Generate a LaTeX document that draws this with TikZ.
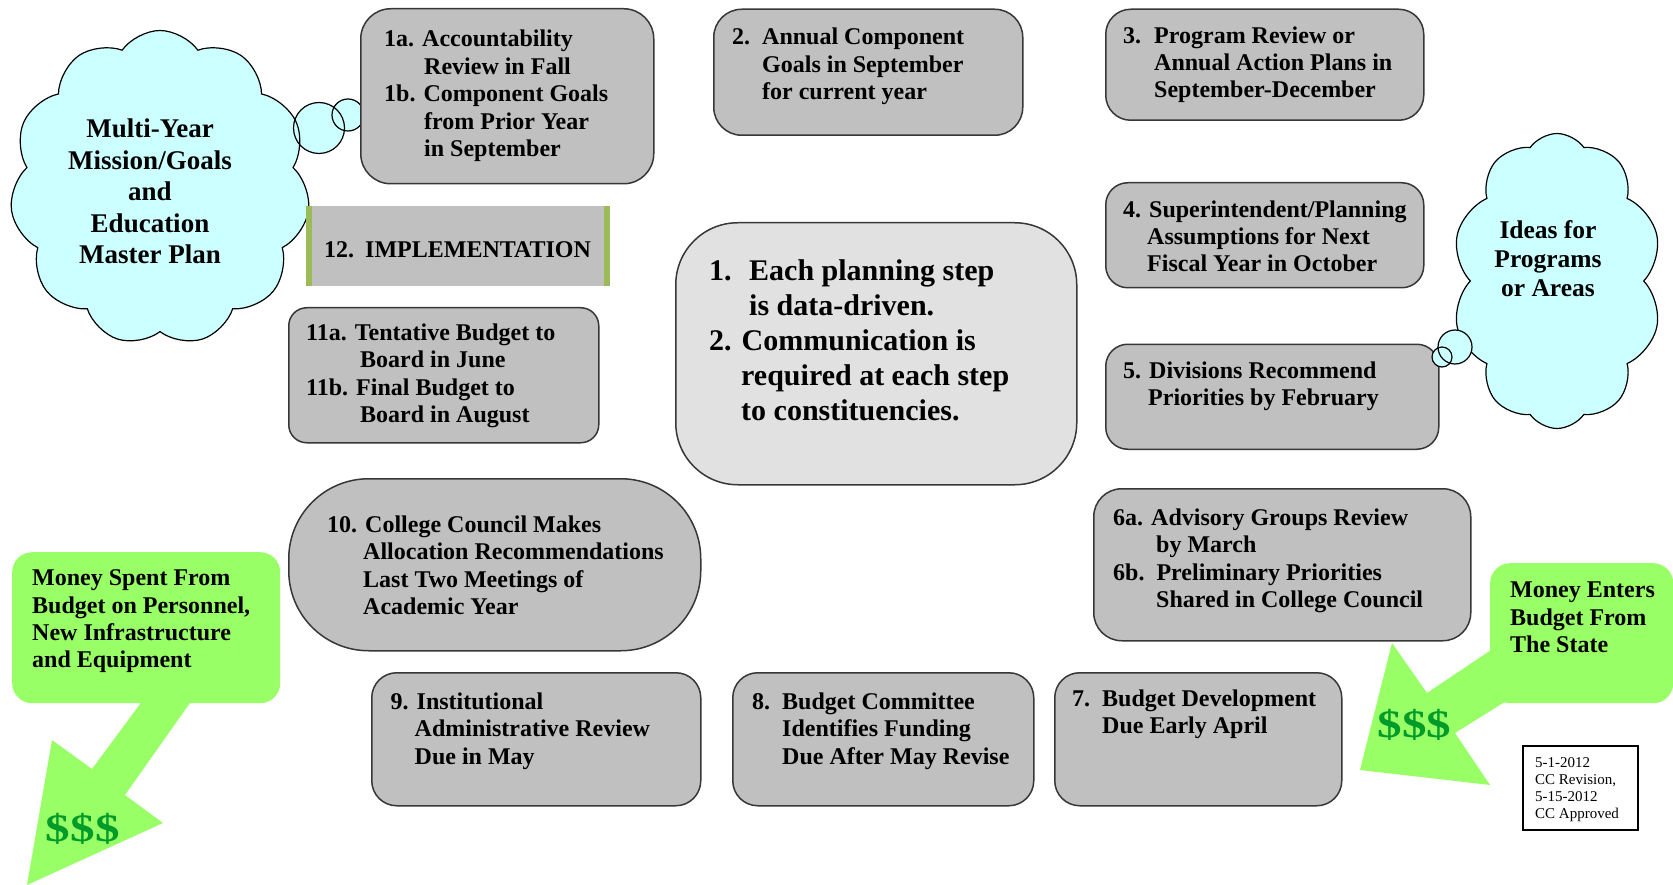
\documentclass[tikz,border=0pt]{standalone}
\usepackage{fontspec}
\usepackage{graphicx}
\setmainfont{Liberation Serif}
\usetikzlibrary{shapes.symbols}
\definecolor{boxgray}{RGB}{192,192,192}
\definecolor{centergray}{RGB}{225,225,225}
\definecolor{cloudcyan}{RGB}{204,255,255}
\definecolor{callgreen}{RGB}{153,255,102}
\definecolor{dollargreen}{RGB}{0,155,40}
\definecolor{implgreen}{RGB}{155,187,89}
\definecolor{edgegray}{RGB}{55,55,55}
\begin{document}
\begin{tikzpicture}[x=1pt,y=-1pt,
  stepbox/.style={draw=edgegray, line width=1.5pt, fill=boxgray, anchor=north west, inner sep=0pt, rounded corners=#1},
  stepbox/.default=25pt,
  txt/.style={font=\fontsize{24}{27.4}\selectfont\bfseries, align=left, inner sep=0pt, anchor=north west, text=black},
  bigtxt/.style={font=\fontsize{30}{35}\selectfont\bfseries, align=left, inner sep=0pt, anchor=north west, text=black},
  cloudtxt/.style={font=\fontsize{27}{31.5}\selectfont\bfseries, align=center, inner sep=0pt, anchor=north, text=black},
  cloudtxtb/.style={font=\fontsize{25.5}{29}\selectfont\bfseries, align=center, inner sep=0pt, anchor=north, text=black},
  thought/.style={cloud, cloud ignores aspect, inner sep=0pt, line width=1.2pt},
  bubble/.style={circle, inner sep=0pt, line width=1.2pt},
  callout/.style={fill=callgreen, rounded corners=20pt, anchor=north west, inner sep=0pt},
  dollars/.style={font=\fontsize{39}{44}\selectfont\bfseries, text=dollargreen, inner sep=0pt, anchor=base west},
  datetxt/.style={font=\fontsize{15}{17}\selectfont, align=left, inner sep=0pt, anchor=north west, text=black}
]
\useasboundingbox (0,0) rectangle (1673,885);
\fill[white] (0,0) rectangle (1673,885);

% ---------- left thought cloud ----------
\node[thought, cloud puffs=11, cloud puff arc=110, minimum width=300pt, minimum height=315pt, fill=cloudcyan] (c1) at (160,188) {};
\node[bubble, minimum size=51pt, fill=cloudcyan] (c1b1) at (319,128) {};
\node[bubble, minimum size=32pt, fill=cloudcyan] (c1b2) at (348,115) {};
\node[thought, cloud puffs=11, cloud puff arc=110, minimum width=300pt, minimum height=315pt, draw=black] (c1o) at (c1.center) {};
\node[bubble, minimum size=51pt, draw=black] (c1b1o) at (c1b1.center) {};
\node[bubble, minimum size=32pt, draw=black] (c1b2o) at (c1b2.center) {};
\node[cloudtxt] (c1t) at (150,118.7) {Multi-Year\\Mission/Goals\\and\\Education\\Master Plan};

% ---------- right thought cloud ----------
\node[thought, cloud puffs=10, cloud puff arc=110, minimum width=210pt, minimum height=295pt, fill=cloudcyan] (c2) at (1557,281) {};
\node[thought, cloud puffs=10, cloud puff arc=110, minimum width=210pt, minimum height=295pt, draw=black] (c2o) at (c2.center) {};
\node[cloudtxtb] (c2t) at (1548,220.5) {Ideas for\\Programs\\or Areas};

% ---------- step boxes ----------
\node[stepbox=30pt, minimum width=293pt, minimum height=175pt] (b1) at (360,8) {};
\node[txt] (t1) at (384,30) {1a. Accountability\\\hspace*{40pt}Review in Fall\\1b. Component Goals\\\hspace*{40pt}from Prior Year\\\hspace*{40pt}in September};

\node[stepbox=28pt, minimum width=309pt, minimum height=126pt] (b2) at (713,8.5) {};
\node[txt] (t2) at (732,27.8) {2.\hspace{12pt}Annual Component\\\hspace*{30pt}Goals in September\\\hspace*{30pt}for current year};

\node[stepbox=25pt, minimum width=318pt, minimum height=111pt] (b3) at (1105,8.5) {};
\node[txt] (t3) at (1123,26.2) {3.\hspace{13pt}Program Review or\\\hspace*{31pt}Annual Action Plans in\\\hspace*{31pt}September-December};

\node[stepbox=22pt, minimum width=318pt, minimum height=105pt] (b4) at (1105,182) {};
\node[txt] (t4) at (1123,200.2) {4. Superintendent/Planning\\\hspace*{24pt}Assumptions for Next\\\hspace*{24pt}Fiscal Year in October};

\node[stepbox=22pt, minimum width=333pt, minimum height=105pt] (b5) at (1105,343.5) {};
\node[txt] (t5) at (1123,361.5) {5. Divisions Recommend\\\hspace*{25pt}Priorities by February};

\node[bubble, minimum size=34pt, fill=cloudcyan] (c2b1) at (1455,347) {};
\node[bubble, minimum size=20pt, fill=cloudcyan] (c2b2) at (1442,357) {};
\node[bubble, minimum size=34pt, draw=black] (c2b1o) at (c2b1.center) {};
\node[bubble, minimum size=20pt, draw=black] (c2b2o) at (c2b2.center) {};

\node[stepbox=28pt, minimum width=377pt, minimum height=152pt] (b6) at (1093,488) {};
\node[txt] (t6) at (1113,508.5) {6a. Advisory Groups Review\\\hspace*{43pt}by March\\6b.\hspace{12pt}Preliminary Priorities\\\hspace*{43pt}Shared in College Council};

\node[stepbox=25pt, minimum width=287pt, minimum height=133pt] (b7) at (1054,672) {};
\node[txt] (t7) at (1072,689.5) {7.\hspace{12pt}Budget Development\\\hspace*{30pt}Due Early April};

\node[stepbox=25pt, minimum width=301pt, minimum height=133pt] (b8) at (732,672) {};
\node[txt] (t8) at (752,692.5) {8.\hspace{12pt}Budget Committee\\\hspace*{30pt}Identifies Funding\\\hspace*{30pt}Due After May Revise};

\node[stepbox=25pt, minimum width=329pt, minimum height=133pt] (b9) at (371,672) {};
\node[txt] (t9) at (390.5,692.5) {9. Institutional\\\hspace*{24pt}Administrative Review\\\hspace*{24pt}Due in May};

\node[stepbox=80pt, minimum width=412pt, minimum height=172pt] (b10) at (288,478) {};
\node[txt] (t10) at (327,515.5) {10. College Council Makes\\\hspace*{36pt}Allocation Recommendations\\\hspace*{36pt}Last Two Meetings of\\\hspace*{36pt}Academic Year};

\node[stepbox=18pt, minimum width=310pt, minimum height=135pt] (b11) at (288,307) {};
\node[txt] (t11) at (306,323.5) {11a. Tentative Budget to\\\hspace*{54pt}Board in June\\11b. Final Budget to\\\hspace*{54pt}Board in August};

% ---------- 12. implementation ----------
\node[fill=boxgray, anchor=north west, inner sep=0pt, minimum width=304pt, minimum height=80pt] (b12) at (306,206) {};
\fill[implgreen] (b12.north west) rectangle ([xshift=6pt]b12.south west);
\fill[implgreen] ([xshift=-6pt]b12.north east) rectangle (b12.south east);
\node[txt] (t12) at (324,241.8) {12.\hspace{11pt}IMPLEMENTATION};

% ---------- centre box ----------
\node[stepbox=62pt, fill=centergray, minimum width=401pt, minimum height=262pt] (b0) at (675,222) {};
\node[bigtxt] (t0) at (709,259.7) {1.\hspace{17.5pt}Each planning step\\\hspace*{40pt}is data-driven.\\2. Communication is\\\hspace*{32pt}required at each step\\\hspace*{32pt}to constituencies.};

% ---------- money callouts ----------
\fill[callgreen] (143,700) -- (92,769) -- (52,740) -- (27,885) -- (163,823) -- (125,795) -- (192,700) -- cycle;
\node[callout, minimum width=268pt, minimum height=151pt] (m1) at (12,552) {};
\node[txt] (m1t) at (32,569.7) {Money Spent From\\Budget on Personnel,\\New Infrastructure\\and Equipment};
\node[dollars] (d1) at (45.7,841) {\scalebox{1.26}[1]{\$\$\$}};

\fill[callgreen] (1503,642) -- (1427,693) -- (1392,643) -- (1360,770) -- (1490,785) -- (1455,733) -- (1519,693) -- cycle;
\node[callout, minimum width=183pt, minimum height=140pt] (m2) at (1490,563) {};
\node[txt] (m2t) at (1510,581.7) {Money Enters\\Budget From\\The State};
\node[dollars] (d2) at (1377.4,737.8) {\scalebox{1.26}[1]{\$\$\$}};

% ---------- date box ----------
\node[draw=black, line width=2pt, anchor=north west, inner sep=0pt, minimum width=115pt, minimum height=84pt] (db) at (1522,745) {};
\node[datetxt] (dt) at (1535,757) {5-1-2012\\CC Revision,\\5-15-2012\\CC Approved};
\end{tikzpicture}
\end{document}
